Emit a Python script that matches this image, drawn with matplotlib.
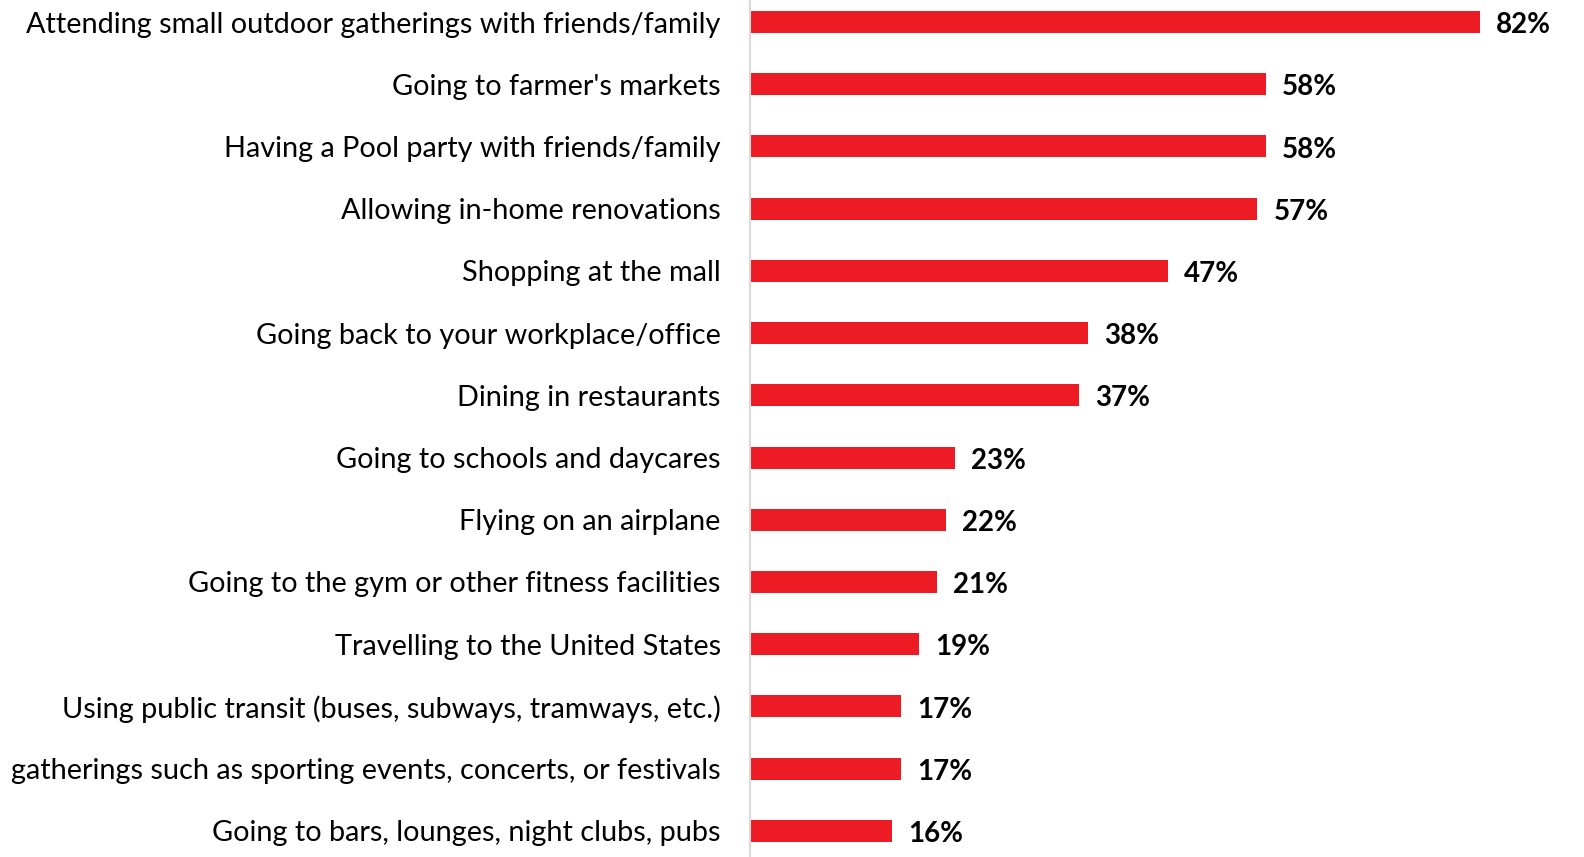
import matplotlib.pyplot as plt
import numpy as np

plt.rcParams['font.family'] = ['Lato', 'DejaVu Sans']

activities = [
    "Attending small outdoor gatherings with friends/family",
    "Going to farmer's markets",
    "Having a Pool party with friends/family",
    "Allowing in-home renovations",
    "Shopping at the mall",
    "Going back to your workplace/office",
    "Dining in restaurants",
    "Going to schools and daycares",
    "Flying on an airplane",
    "Going to the gym or other fitness facilities",
    "Travelling to the United States",
    "Using public transit (buses, subways, tramways, etc.)",
    "gatherings such as sporting events, concerts, or festivals",
    "Going to bars, lounges, night clubs, pubs",
]
pct = [82, 58, 58, 57, 47, 38, 37, 23, 22, 21, 19, 17, 17, 16]

fig = plt.figure(figsize=(15.84, 8.57), dpi=100)
ax = fig.add_axes([750 / 1584, 0, 834 / 1584, 1])

y = np.arange(len(activities))
ax.barh(y, pct, height=0.354, color='#ED1C24', left=0)
for yi, v in zip(y, pct):
    ax.text(v + 1.8, yi + 0.05, f"{v}%", va='center', ha='left',
            fontsize=20, fontweight='bold', color='black')

ax.set_xlim(0, 834 / 8.9)
ax.set_ylim(13.42, -0.354)
ax.set_yticks(y)
ax.set_yticklabels(activities, fontsize=20.8)
ax.tick_params(axis='y', length=0, pad=21)
ax.set_xticks([])
for s in ['top', 'right', 'bottom']:
    ax.spines[s].set_visible(False)
ax.spines['left'].set_color('#d9d9d9')
ax.spines['left'].set_linewidth(1.5)

fig.savefig('out.png', dpi=100)
